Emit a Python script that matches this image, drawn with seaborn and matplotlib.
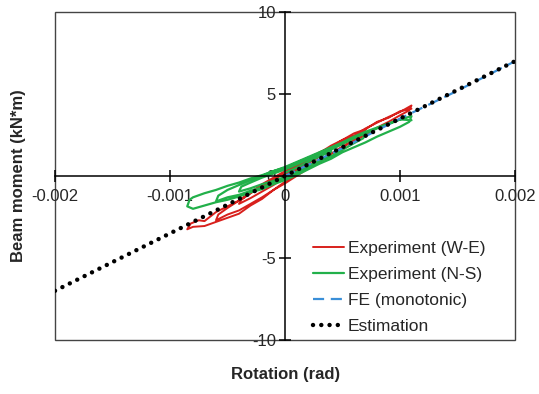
import numpy
import pandas
import seaborn
from matplotlib import pyplot
from matplotlib.patches import Rectangle

# ------------------------------------------------------------------ data
# experiment, west-east direction (rotation in rad, moment in kN*m)
we_rotation = [0, 0.00005, 0.00012, 0.0002, 0.00028, 0.00035, 0.0004,
               0.00037, 0.0003, 0.0002, 0.0001, 0, -0.0001, -0.0002,
               -0.0003, -0.0004, -0.00038, -0.0003, -0.0002, -0.0001,
               0, 0.0001, 0.0002, 0.0003, 0.0004, 0.0005, 0.0006, 0.0007,
               0.00068, 0.0006, 0.0005, 0.0004, 0.0003, 0.0002, 0.0001,
               0, -0.0001, -0.0002, -0.0003, -0.0004, -0.0005, -0.0006,
               -0.00058, -0.0005, -0.0004, -0.0003, -0.0002, -0.0001,
               0, 0.0001, 0.0002, 0.0003, 0.0004, 0.0005, 0.0006, 0.0007,
               0.0008, 0.0009, 0.001, 0.0011,
               0.00108, 0.001, 0.0009, 0.0008, 0.0007, 0.0006, 0.0005,
               0.0004, 0.0003, 0.0002, 0.0001, 0, -0.0001, -0.0002,
               -0.0003, -0.0004, -0.0005, -0.0006, -0.0007, -0.0008,
               -0.00085, -0.00082, -0.00075, -0.0007, -0.0006, -0.0005,
               -0.0004, -0.0003, -0.0002, -0.0001, 0, 0.0001, 0.0002,
               0.0003, 0.0004, 0.0005, 0.0006, 0.0007, 0.0008, 0.0009,
               0.001, 0.0011]
we_moment = [0, 0.3, 0.5, 0.9, 1.1, 1.5, 1.7,
             1.45, 1.2, 0.75, 0.35, -0.1, -0.55, -0.95,
             -1.35, -1.7, -1.45, -1.05, -0.6, -0.2,
             0.15, 0.5, 0.95, 1.25, 1.65, 2.1, 2.35, 2.85,
             2.55, 2.2, 1.8, 1.35, 1.0, 0.55, 0.1,
             -0.35, -0.85, -1.3, -1.7, -2.1, -2.35, -2.7,
             -2.35, -1.95, -1.5, -1.05, -0.6, -0.25,
             0.25, 0.6, 1.0, 1.45, 1.75, 2.2, 2.45, 2.9,
             3.25, 3.6, 3.9, 4.3,
             4.0, 3.7, 3.3, 2.95, 2.5, 2.15, 1.75,
             1.35, 0.85, 0.45, 0.0, -0.45, -0.85, -1.4,
             -1.8, -2.3, -2.55, -2.8, -3.05, -3.1,
             -3.25, -2.9, -2.7, -2.75, -2.2, -1.85,
             -1.5, -1.0, -0.5, -0.1, 0.3, 0.65, 1.1,
             1.4, 1.85, 2.2, 2.6, 2.85, 3.3, 3.55,
             3.95, 4.1]

# experiment, north-south direction
ns_rotation = [0, 0.0001, 0.0002, 0.0003, 0.0004, 0.00038, 0.0003, 0.0002,
               0.0001, 0, -0.0001, -0.0002, -0.0003, -0.0004, -0.00038,
               -0.0003, -0.0002, -0.0001, 0, 0.0001, 0.0002, 0.0003,
               0.0004, 0.0005, 0.0006, 0.0007, 0.00068, 0.0006, 0.0005,
               0.0004, 0.0003, 0.0002, 0.0001, 0, -0.0001, -0.0002,
               -0.0003, -0.0004, -0.0005, -0.0006, -0.00058, -0.0005,
               -0.0004, -0.0003, -0.0002, -0.0001, 0, 0.0001, 0.0002,
               0.0003, 0.0004, 0.0005, 0.0006, 0.0007, 0.0008, 0.0009,
               0.001, 0.0011, 0.00108, 0.001, 0.0009, 0.0008, 0.0007,
               0.0006, 0.0005, 0.0004, 0.0003, 0.0002, 0.0001, 0,
               -0.0001, -0.0002, -0.0003, -0.0004, -0.0005, -0.0006,
               -0.0007, -0.0008, -0.00085, -0.00083, -0.0008, -0.0007,
               -0.0006, -0.0005, -0.0004, -0.0003, -0.0002, -0.0001, 0,
               0.0001, 0.0002, 0.0003, 0.0004, 0.0005, 0.0006, 0.0007,
               0.0008, 0.0009, 0.001, 0.0011]
ns_moment = [0.2, 0.5, 0.85, 1.2, 1.5, 1.2, 0.95, 0.6,
             0.25, -0.05, -0.3, -0.5, -0.75, -0.95, -0.65,
             -0.4, -0.1, 0.15, 0.4, 0.7, 1.0, 1.3,
             1.6, 1.95, 2.3, 2.65, 2.3, 2.0, 1.6,
             1.2, 0.9, 0.5, 0.15, -0.15, -0.4, -0.7,
             -0.9, -1.15, -1.3, -1.55, -1.2, -0.85,
             -0.55, -0.25, 0.0, 0.3, 0.5, 0.8, 1.1,
             1.4, 1.7, 2.0, 2.35, 2.6, 2.9, 3.15,
             3.45, 3.65, 3.3, 3.0, 2.7, 2.4, 2.05,
             1.75, 1.45, 1.05, 0.75, 0.4, 0.05, -0.25,
             -0.5, -0.8, -1.0, -1.25, -1.45, -1.6,
             -1.8, -2.0, -1.85, -1.45, -1.3, -1.05,
             -0.85, -0.6, -0.4, -0.15, 0.05, 0.3, 0.55,
             0.85, 1.15, 1.45, 1.75, 2.05, 2.4, 2.7,
             2.95, 3.2, 3.45, 3.4]

# finite element, monotonic
fe_rotation = [0, 0.0005, 0.001, 0.0015, 0.002]
fe_moment = [0, 1.7, 3.5, 5.2, 7.0]

# estimation
est_rotation = [-0.002, 0.002]
est_moment = [-7.0, 7.0]

x_ticks = [-0.002, -0.001, 0, 0.001, 0.002]
x_tick_labels = ['-0.002', '-0.001', '0', '0.001', '0.002']
y_ticks = [-10, -5, 0, 5, 10]
y_tick_labels = ['-10', '-5', '0', '5', '10']

# ------------------------------------------------------------------ plot
seaborn.set_style('white')
pyplot.rcParams['font.family'] = ['Liberation Sans', 'DejaVu Sans']

figure = pyplot.figure(figsize=(5.39, 3.94), dpi=100)
axes = figure.add_axes([55 / 539, 1 - 340 / 394, 460 / 539, 328 / 394])

seaborn.lineplot(x=we_rotation, y=we_moment, sort=False, estimator=None,
                 color='#d8201c', lw=1.4, ax=axes, label='Experiment (W-E)')
seaborn.lineplot(x=ns_rotation, y=ns_moment, sort=False, estimator=None,
                 color='#22b04a', lw=1.6, ax=axes, label='Experiment (N-S)')
seaborn.lineplot(x=fe_rotation, y=fe_moment, sort=False, estimator=None,
                 color='#3a8fd8', lw=1.6, ax=axes, label='FE (monotonic)')
axes.lines[-1].set_dashes([5, 3])
seaborn.lineplot(x=est_rotation, y=est_moment, sort=False, estimator=None,
                 color='black', lw=3.2, ax=axes, label='Estimation')
axes.lines[-1].set_dashes([0.01, 1.85])
axes.lines[-1].set_dash_capstyle('round')

axes.set_xlim(-0.002, 0.002)
axes.set_ylim(-10, 10)

# spines through the origin, frame around the plot
for side in ['left', 'bottom']:
    axes.spines[side].set_position(('data', 0))
    axes.spines[side].set_color('black')
    axes.spines[side].set_linewidth(1.1)
    axes.spines[side].set_visible(True)
for side in ['top', 'right']:
    axes.spines[side].set_visible(False)
axes.add_patch(Rectangle((0, 0), 1, 1, transform=axes.transAxes,
                         fill=False, edgecolor='#444444', lw=1.0,
                         clip_on=False, zorder=0))

axes.set_xticks(x_ticks)
axes.set_xticklabels(x_tick_labels)
axes.set_yticks(y_ticks)
axes.set_yticklabels(y_tick_labels)
axes.tick_params(axis='both', direction='inout', length=9, width=1.1,
                 color='black', labelsize=12, left=True, bottom=True)
axes.tick_params(axis='x', pad=5)
axes.tick_params(axis='y', pad=2)

# labels
figure.text(286 / 539, 1 - 375 / 394, 'Rotation (rad)', fontsize=12,
            fontweight='bold', ha='center', va='center')
figure.text(19 / 539, 1 - 176 / 394, 'Beam moment (kN*m)', fontsize=12,
            fontweight='bold', ha='center', va='center', rotation=90)

legend = axes.legend(loc='lower left',
                     bbox_to_anchor=((313 - 55) / 460, 6 / 328),
                     frameon=False, fontsize=12.5, handlelength=1.8,
                     handletextpad=0.2, labelspacing=0.62,
                     borderpad=0, borderaxespad=0)

figure.savefig('out.png', dpi=100)
